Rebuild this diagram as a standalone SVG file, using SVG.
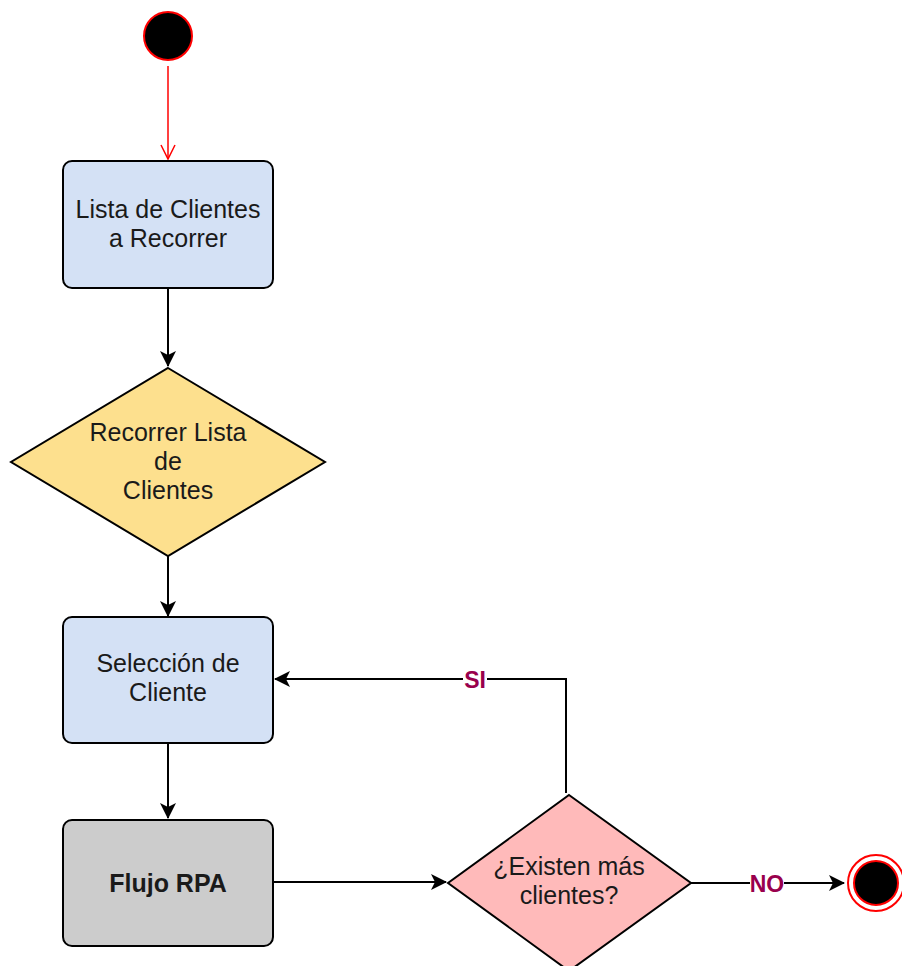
<svg xmlns="http://www.w3.org/2000/svg" width="902" height="966" viewBox="0 0 902 966">
<style>
.t{font-family:"Liberation Sans",Arial,sans-serif;font-size:25px;fill:#1a1a1a;text-anchor:middle}
.b{font-weight:bold}
.lbl{font-family:"Liberation Sans",Arial,sans-serif;font-size:23px;font-weight:bold;fill:#99004d;text-anchor:middle}
.box{stroke:#000;stroke-width:2}
.c{fill:none;stroke:#000;stroke-width:2}
</style>
<defs>
<marker id="a" markerWidth="16" markerHeight="16" viewBox="0 0 16 16" refX="15" refY="8" orient="auto" markerUnits="userSpaceOnUse" overflow="visible">
<path d="M0,0 L16,8 L0,16 L4,8 Z" fill="#000"/>
</marker>
<marker id="ar" markerWidth="16" markerHeight="16" viewBox="0 0 16 16" refX="8" refY="15" orient="0" markerUnits="userSpaceOnUse" overflow="visible">
<path d="M1,1 L8,15 L15,1" fill="none" stroke="#f00" stroke-width="1.5"/>
</marker>
</defs>
<g id="connectors">
<line x1="168" y1="66" x2="168" y2="159" stroke="#f00" stroke-width="1.5" marker-end="url(#ar)"/>
<line class="c" x1="168" y1="288" x2="168" y2="366" marker-end="url(#a)"/>
<line class="c" x1="168" y1="556" x2="168" y2="616" marker-end="url(#a)"/>
<line class="c" x1="168" y1="743" x2="168" y2="818" marker-end="url(#a)"/>
<line class="c" x1="273" y1="882" x2="446" y2="882" marker-end="url(#a)"/>
<polyline class="c" points="566,793 566,679 275,679" marker-end="url(#a)"/>
<line class="c" x1="691" y1="883" x2="844" y2="883" marker-end="url(#a)"/>
<rect x="463" y="667" width="24" height="24" fill="#fff"/>
<text class="lbl" x="475" y="688">SI</text>
<rect x="750" y="871" width="34" height="24" fill="#fff"/>
<text class="lbl" x="767" y="892">NO</text>
</g>
<g id="start">
<circle cx="168" cy="36" r="24" fill="#000" stroke="#f00" stroke-width="2"/>
</g>
<g id="lista">
<rect class="box" x="63" y="161" width="210" height="127" rx="9" fill="#d4e1f5"/>
<text class="t" x="168" y="218">Lista de Clientes</text>
<text class="t" x="168" y="247">a Recorrer</text>
</g>
<g id="recorrer">
<polygon class="box" points="168,368 325,462 168,556 11,462" fill="#fde08e"/>
<text class="t" x="168" y="441">Recorrer Lista</text>
<text class="t" x="168" y="470">de</text>
<text class="t" x="168" y="499">Clientes</text>
</g>
<g id="seleccion">
<rect class="box" x="63" y="617" width="210" height="126" rx="9" fill="#d4e1f5"/>
<text class="t" x="168" y="672">Selección de</text>
<text class="t" x="168" y="701">Cliente</text>
</g>
<g id="flujo">
<rect class="box" x="63" y="820" width="210" height="126" rx="9" fill="#cccccc"/>
<text class="t b" x="168" y="892">Flujo RPA</text>
</g>
<g id="existen">
<polygon class="box" points="569,795 691,883 569,971 448,883" fill="#ffbaba"/>
<text class="t" x="569" y="875">¿Existen más</text>
<text class="t" x="569" y="904">clientes?</text>
</g>
<g id="end">
<circle cx="876" cy="883" r="28" fill="#fff" stroke="#f00" stroke-width="2"/>
<circle cx="876" cy="883" r="22" fill="#000" stroke="#f00" stroke-width="2"/>
</g>
</svg>
